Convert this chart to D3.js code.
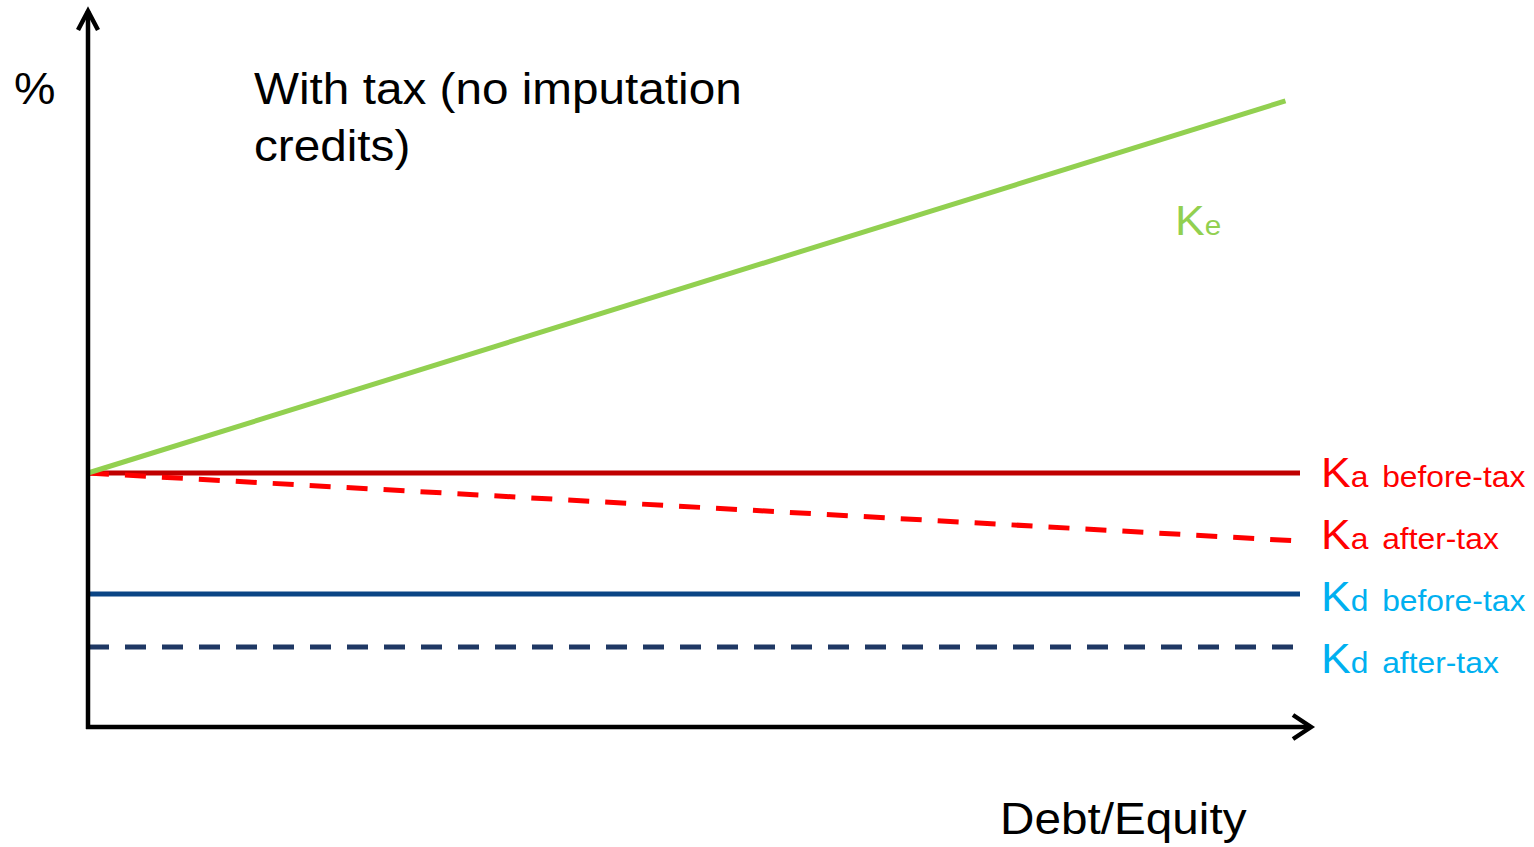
<!DOCTYPE html>
<html>
<head>
<meta charset="utf-8">
<script src="https://cdn.jsdelivr.net/npm/d3@7"></script>
<style>
  html, body { margin: 0; padding: 0; background: #fff; }
  svg { display: block; font-family: "Liberation Sans", Arial, sans-serif; }
</style>
</head>
<body>
<svg id="chart" width="1534" height="847"></svg>
<script>
// Debt/Equity positions (0 = all equity, 1 = right end of the drawn range)
const ratioPoints = [0, 1];
const keRatioPoints = [0, 0.988];

// Cost of capital, % (illustrative levels)
const keValues    = [10, 24.65];
const kaBeforeTax = [10, 10];
const kaAfterTax  = [10, 7.32];
const kdBeforeTax = [5.24, 5.24];
const kdAfterTax  = [3.15, 3.15];

const titleLines = ["With tax (no imputation", "credits)"];
const yAxisLabel = "%";
const xAxisLabel = "Debt/Equity";

const seriesLabels = [
  { main: "K", sub: "a", text: "before-tax", color: "#FF0000" },
  { main: "K", sub: "a", text: "after-tax",  color: "#FF0000" },
  { main: "K", sub: "d", text: "before-tax", color: "#00B0F0" },
  { main: "K", sub: "d", text: "after-tax",  color: "#00B0F0" }
];

const svg = d3.select("#chart");

const originX = 88, originY = 727;
const x = d3.scaleLinear().domain([0, 1]).range([originX, 1300]);
const y = d3.scaleLinear().domain([0, 28.15]).range([originY, 12]);

const line = d3.line().x(d => x(d[0])).y(d => y(d[1]));
const pts = (xs, ys) => xs.map((v, i) => [v, ys[i]]);

// Series lines
const series = [
  { xs: ratioPoints,   ys: kdAfterTax,  color: "#1F3864", dash: "21 16" },
  { xs: ratioPoints,   ys: kdBeforeTax, color: "#0B4585", dash: null },
  { xs: ratioPoints,   ys: kaBeforeTax, color: "#C00000", dash: null },
  { xs: ratioPoints,   ys: kaAfterTax,  color: "#FF0000", dash: "21 16" },
  { xs: keRatioPoints, ys: keValues,    color: "#92D050", dash: null }
];

svg.append("g").selectAll("path")
  .data(series)
  .join("path")
  .attr("d", d => line(pts(d.xs, d.ys)))
  .attr("fill", "none")
  .attr("stroke", d => d.color)
  .attr("stroke-width", 5)
  .attr("stroke-dasharray", d => d.dash);

// Axes with open arrowheads
const axes = svg.append("g")
  .attr("stroke", "#000")
  .attr("stroke-width", 4.5)
  .attr("fill", "none");

axes.append("path")
  .attr("d", `M${originX},${originY + 2}V11`);
axes.append("path")
  .attr("stroke-linejoin", "miter")
  .attr("d", `M${originX - 10},30L${originX},11L${originX + 10},30`);

axes.append("path")
  .attr("d", `M${originX - 2},${originY}H1311`);
axes.append("path")
  .attr("stroke-linejoin", "miter")
  .attr("d", `M1293,${originY - 12}L1311,${originY}L1293,${originY + 12}`);

// Text
const stretch = "scale(1.06,1)";

const title = svg.append("text")
  .attr("transform", `translate(254,0) ${stretch}`)
  .attr("font-size", 45)
  .attr("fill", "#000");
title.selectAll("tspan")
  .data(titleLines)
  .join("tspan")
  .attr("x", 0)
  .attr("y", (d, i) => 104 + i * 57)
  .text(d => d);

svg.append("text")
  .attr("transform", `translate(14,104) ${stretch}`)
  .attr("font-size", 44)
  .attr("fill", "#000")
  .text(yAxisLabel);

svg.append("text")
  .attr("transform", `translate(1000,834) ${stretch}`)
  .attr("font-size", 45)
  .attr("fill", "#000")
  .text(xAxisLabel);

// Ke label beside the rising line
const keLabel = svg.append("text")
  .attr("transform", `translate(1175,235) ${stretch}`)
  .attr("fill", "#92D050");
keLabel.append("tspan").attr("font-size", 42).text("K");
keLabel.append("tspan").attr("font-size", 28).text("e");

// Right-hand labels for Ka / Kd
const labelG = svg.append("g")
  .selectAll("text")
  .data(seriesLabels)
  .join("text")
  .attr("transform", (d, i) => `translate(1321,${y(kaBeforeTax[1]) + 14 + i * 62}) ${stretch}`)
  .attr("fill", d => d.color);
labelG.append("tspan").attr("font-size", 42).text(d => d.main);
labelG.append("tspan").attr("font-size", 30).text(d => d.sub);
labelG.append("tspan").attr("font-size", 30).attr("dx", 13).text(d => d.text);
</script>
</body>
</html>
